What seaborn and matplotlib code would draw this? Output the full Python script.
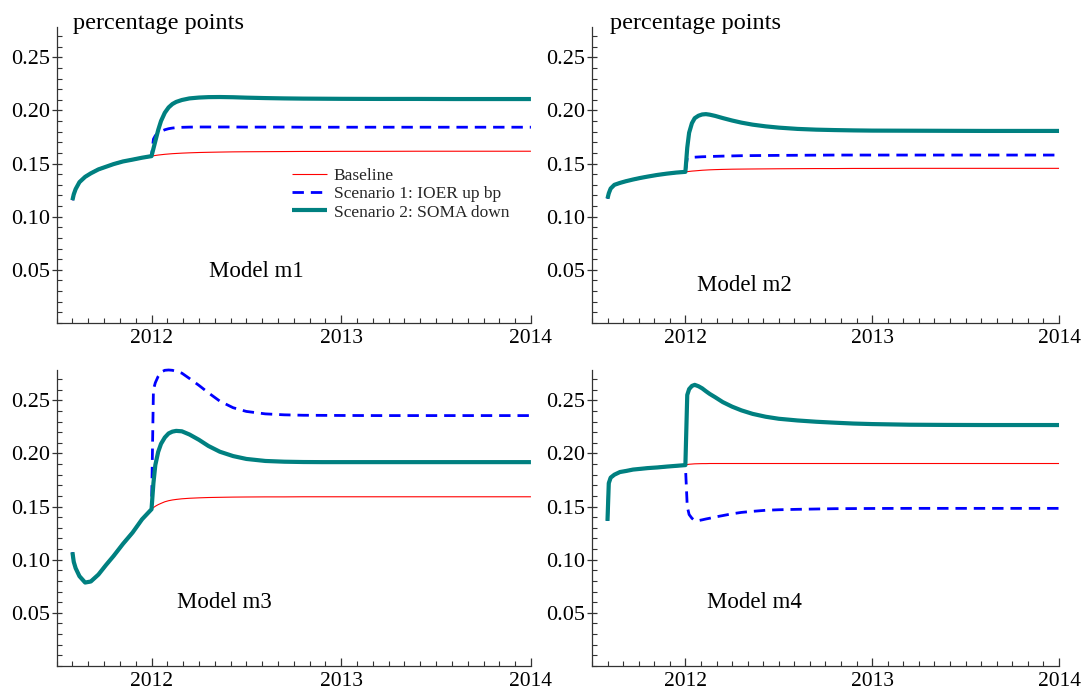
import numpy as np
import pandas as pd
import matplotlib
matplotlib.use("Agg")
import matplotlib.pyplot as plt
from matplotlib.ticker import MultipleLocator, FixedLocator, FormatStrFormatter
import seaborn as sns

# ---- data -------------------------------------------------------------
pre_years = [2011.583, 2011.59, 2011.60, 2011.62, 2011.65, 2011.68, 2011.72,
             2011.76, 2011.80, 2011.85, 2011.90, 2011.95, 2012.00]
post_years = [2012.01, 2012.02, 2012.035, 2012.05, 2012.07, 2012.09, 2012.11,
              2012.13, 2012.16, 2012.20, 2012.25, 2012.30, 2012.36, 2012.43,
              2012.50, 2012.60, 2012.70, 2012.80, 2012.90, 2013.00, 2013.20,
              2013.40, 2013.60, 2013.80, 2014.00]

series_names = ["Baseline", "Scenario 1: IOER up bp", "Scenario 2: SOMA down"]
model_names = ["Model m1", "Model m2", "Model m3", "Model m4"]

# common path before 2012 (all three series coincide)
m1_pre = [0.1155, 0.121, 0.126, 0.1325, 0.1375, 0.1408, 0.1445, 0.147, 0.1495,
          0.152, 0.1537, 0.1555, 0.157]
m2_pre = [0.117, 0.122, 0.1265, 0.130, 0.1318, 0.1333, 0.135, 0.1365, 0.1378,
          0.1393, 0.1405, 0.1415, 0.1422]
m3_pre = [0.107, 0.098, 0.092, 0.0845, 0.0785, 0.0795, 0.086, 0.095, 0.1035,
          0.115, 0.1255, 0.138, 0.1475]
m4_pre = [0.1365, 0.172, 0.1772, 0.180, 0.1825, 0.1834, 0.1848, 0.1855, 0.1862,
          0.1868, 0.1876, 0.1883, 0.189]

# paths from 2012 onwards
m1_baseline = [0.1573, 0.1576, 0.158, 0.1583, 0.1587, 0.159, 0.1593, 0.1595, 0.1598,
               0.1601, 0.1604, 0.1606, 0.1608, 0.161, 0.1611, 0.1612, 0.1613, 0.1614,
               0.1614, 0.1615, 0.1615, 0.1616, 0.1616, 0.1616, 0.1616]
m1_ioer = [0.173, 0.1763, 0.1788, 0.1803, 0.1818, 0.1828, 0.1834, 0.1838, 0.1841,
           0.1843, 0.1844, 0.1844, 0.1844, 0.1844, 0.1843, 0.1843, 0.1843, 0.1842,
           0.1842, 0.1842, 0.1842, 0.1842, 0.1842, 0.1842, 0.1842]
m1_soma = [0.164, 0.171, 0.1815, 0.19, 0.1978, 0.2028, 0.206, 0.208, 0.2098,
           0.2113, 0.2121, 0.2125, 0.2126, 0.2124, 0.212, 0.2116, 0.2113, 0.2111,
           0.211, 0.2109, 0.2108, 0.2108, 0.2107, 0.2107, 0.2107]

m2_baseline = [0.1424, 0.1426, 0.1429, 0.1431, 0.1434, 0.1437, 0.1439, 0.1441, 0.1443,
               0.1445, 0.1447, 0.1448, 0.1449, 0.145, 0.1451, 0.1452, 0.1453, 0.1453,
               0.1454, 0.1454, 0.1455, 0.1455, 0.1455, 0.1455, 0.1455]
m2_ioer = [0.1555, 0.1557, 0.1559, 0.156, 0.1562, 0.1564, 0.1565, 0.1566, 0.1568,
           0.157, 0.1572, 0.1574, 0.1575, 0.1576, 0.1577, 0.1578, 0.1579, 0.158,
           0.158, 0.158, 0.158, 0.158, 0.158, 0.158, 0.158]
m2_soma = [0.165, 0.179, 0.188, 0.1927, 0.195, 0.1962, 0.1965, 0.196, 0.1948,
           0.1928, 0.1905, 0.1885, 0.1866, 0.185, 0.1838, 0.1826, 0.1819, 0.1815,
           0.1812, 0.181, 0.1809, 0.1808, 0.1807, 0.1807, 0.1807]

m3_baseline = [0.149, 0.1503, 0.1518, 0.153, 0.1545, 0.1555, 0.1562, 0.1567, 0.1573,
               0.1578, 0.1582, 0.1585, 0.1587, 0.1589, 0.159, 0.1591, 0.1591, 0.1592,
               0.1592, 0.1592, 0.1592, 0.1592, 0.1592, 0.1592, 0.1592]
m3_ioer = [0.260, 0.2665, 0.2725, 0.2765, 0.2782, 0.2785, 0.2782, 0.2772, 0.2755,
           0.2705, 0.264, 0.257, 0.2492, 0.243, 0.2395, 0.2372, 0.2363, 0.2359,
           0.2358, 0.2357, 0.2356, 0.2356, 0.2356, 0.2356, 0.2356]
m3_soma = [0.172, 0.189, 0.2014, 0.209, 0.215, 0.2188, 0.2205, 0.2212, 0.2208,
           0.2178, 0.2128, 0.207, 0.2016, 0.1975, 0.1948, 0.1929, 0.1922, 0.1919,
           0.1918, 0.1918, 0.1918, 0.1918, 0.1918, 0.1918, 0.1918]

m4_baseline = [0.1895, 0.1898, 0.19, 0.1902, 0.1903, 0.1904, 0.1904, 0.1905, 0.1905,
               0.1905, 0.1905, 0.1905, 0.1905, 0.1905, 0.1905, 0.1905, 0.1905, 0.1905,
               0.1905, 0.1905, 0.1905, 0.1905, 0.1905, 0.1905, 0.1905]
m4_ioer = [0.150, 0.1425, 0.139, 0.1368, 0.1368, 0.1375, 0.1383, 0.139, 0.1402,
           0.1415, 0.1432, 0.1445, 0.1455, 0.1465, 0.147, 0.1474, 0.1477, 0.148,
           0.1481, 0.1482, 0.1483, 0.1483, 0.1483, 0.1483, 0.1483]
m4_soma = [0.255, 0.2605, 0.2635, 0.2645, 0.2632, 0.2612, 0.2585, 0.256, 0.2528,
           0.2483, 0.244, 0.2405, 0.2372, 0.2345, 0.2326, 0.231, 0.2298, 0.2289,
           0.2281, 0.2276, 0.227, 0.2268, 0.2267, 0.2267, 0.2267]

year_ticks = [2012, 2013, 2014]
value_ticks = [0.05, 0.10, 0.15, 0.20, 0.25]

# ---- long table -------------------------------------------------------
pre_paths = [m1_pre, m2_pre, m3_pre, m4_pre]
post_paths = [[m1_baseline, m1_ioer, m1_soma],
              [m2_baseline, m2_ioer, m2_soma],
              [m3_baseline, m3_ioer, m3_soma],
              [m4_baseline, m4_ioer, m4_soma]]
rows = []
for mname, pre, posts in zip(model_names, pre_paths, post_paths):
    for sname, post in zip(series_names, posts):
        for yr, val in zip(pre_years + post_years, pre + post):
            rows.append((mname, sname, yr, val))
df = pd.DataFrame(rows, columns=["model", "series", "year", "value"])

# ---- styling ----------------------------------------------------------
sns.set_theme(style="ticks")
plt.rcParams["font.family"] = ["Liberation Serif", "DejaVu Serif"]

line_styles = {
    "Baseline": dict(color="#ff0000", linewidth=0.8, linestyle="-"),
    "Scenario 1: IOER up bp": dict(color="#0000ff", linewidth=2.0,
                                   linestyle=(0, (4.1, 2.5))),
    "Scenario 2: SOMA down": dict(color="#008080", linewidth=3.0, linestyle="-"),
}

fig = plt.figure(figsize=(10.92, 6.90), dpi=100)
positions = [
    [0.0519, 0.5319, 0.4343, 0.4290],
    [0.5421, 0.5319, 0.4277, 0.4290],
    [0.0519, 0.0348, 0.4343, 0.4290],
    [0.5421, 0.0348, 0.4277, 0.4290],
]
label_pos = [(0.321, 0.156), (0.225, 0.108), (0.253, 0.196), (0.246, 0.195)]
ymax = df["value"].max()
spine_col = "#333333"

axes = []
for i, mname in enumerate(model_names):
    ax = fig.add_axes(positions[i])
    sub = df[df["model"] == mname]
    for sname in series_names:
        d = sub[sub["series"] == sname]
        sns.lineplot(data=d, x="year", y="value", ax=ax, estimator=None,
                     sort=False, label=sname, legend=False, clip_on=False,
                     solid_capstyle="butt", **line_styles[sname])
    ax.set_xlim(2011.5, 2014)
    ax.set_ylim(0, ymax)
    ax.set_xlabel("")
    ax.set_ylabel("")
    sns.despine(ax=ax)
    for side in ("left", "bottom"):
        ax.spines[side].set_color(spine_col)
        ax.spines[side].set_linewidth(0.9)
    ax.xaxis.set_major_locator(FixedLocator(year_ticks))
    ax.xaxis.set_minor_locator(MultipleLocator(1 / 12))
    ax.set_xticklabels([str(y) for y in year_ticks])
    ax.yaxis.set_major_locator(FixedLocator(value_ticks))
    ax.yaxis.set_minor_locator(MultipleLocator(0.01))
    ax.yaxis.set_major_formatter(FormatStrFormatter("%.2f"))
    ax.tick_params(axis="both", which="major", direction="in", length=6,
                   width=0.9, color=spine_col, labelsize=15.5, labelcolor="black")
    ax.tick_params(axis="y", which="major", direction="inout", length=7,
                   labelsize=16)
    ax.tick_params(axis="both", which="minor", direction="in", length=3.5,
                   width=0.8, color=spine_col)
    ax.tick_params(axis="x", which="major", pad=4)
    ax.tick_params(axis="y", which="major", pad=1.5)
    ax.text(label_pos[i][0], label_pos[i][1], mname, transform=ax.transAxes,
            ha="left", va="baseline", fontsize=16.5, color="black")
    if i < 2:
        ax.text(0.035 if i == 0 else 0.039, 0.993, "percentage points",
                transform=ax.transAxes, ha="left", va="baseline",
                fontsize=17.5, color="black")
    axes.append(ax)

axes[0].legend(loc="upper left", bbox_to_anchor=(0.496, 0.524), frameon=False,
               fontsize=12.5, handlelength=2.0, handletextpad=0.4,
               labelspacing=0.12, borderpad=0, borderaxespad=0)

fig.savefig("out.png", dpi=100)
